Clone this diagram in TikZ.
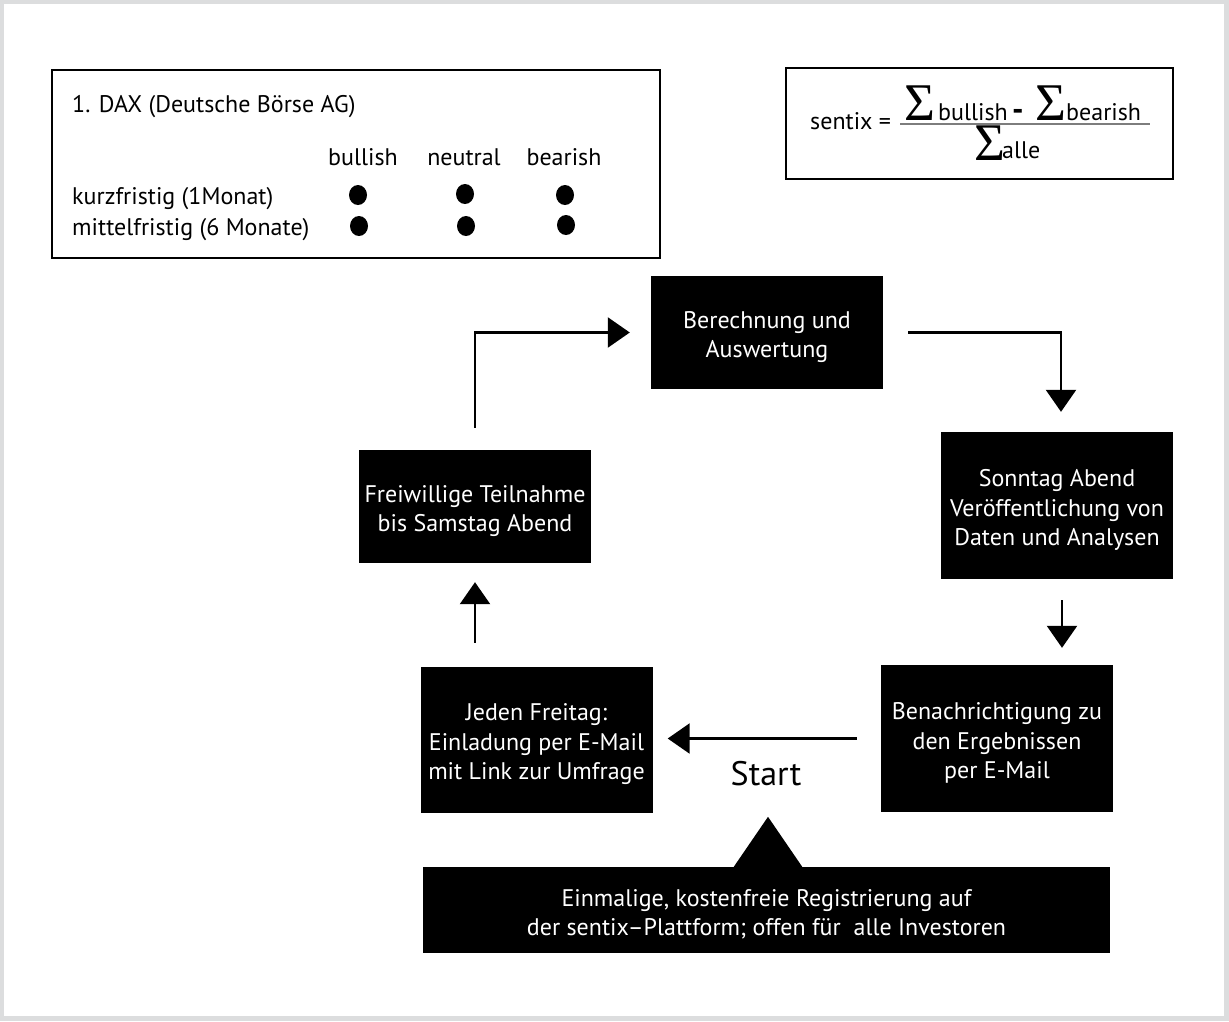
\documentclass[tikz,border=0pt]{standalone}
\usepackage{fontspec}
\setmainfont{PT Sans}
\newfontfamily\sigmafont{Liberation Serif}
\usetikzlibrary{arrows.meta, calc}

\definecolor{framegray}{RGB}{220, 221, 222}
\definecolor{rulegray}{RGB}{125, 125, 125}
\newcommand\lift{\rule{0pt}{26pt}}

\begin{document}
\begin{tikzpicture}[x=1pt, y=-1pt,
  stepbox/.style={fill=black, text=white, align=center, inner sep=0pt, minimum width=232pt, font=\fontsize{24}{29.5}\selectfont},
  framebox/.style={draw, line width=2.2pt, inner sep=0pt},
  lbl/.style={inner sep=0pt, font=\fontsize{24}{28}\selectfont},
  sig/.style={inner sep=0pt, anchor=base west, text height=30pt, text depth=0pt, font=\sigmafont\fontsize{53}{53}\selectfont},
  arr/.style={line width=2.4pt, -{Triangle[length=22pt, width=30pt]}},
  bigtip/.style={line width=2pt, -{Triangle[length=50pt, width=68pt]}}
]
  % grey page frame
  \fill[framegray] (0,0) rectangle (1229,1021);
  \fill[white] (4,4) rectangle (1224,1016);
  \useasboundingbox (0,0) rectangle (1229,1021);

  % questionnaire example
  \node[framebox, minimum width=608pt, minimum height=188pt] (dax) at (356,164) {};
  \node[lbl, anchor=west] (daxtitle) at (72,107) {1. DAX (Deutsche Börse AG)};
  \node[lbl] (hbull) at (363,157) {bullish};
  \node[lbl] (hneut) at (464,157) {neutral};
  \node[lbl] (hbear) at (564,157) {bearish};
  \node[lbl, anchor=west] (kurz) at (72,199) {kurzfristig (1Monat)};
  \node[lbl, anchor=west] (mittel) at (72,230) {mittelfristig (6 Monate)};
  \foreach \x/\y in {358/195, 465/194, 565/195, 359/226, 466/226, 566/225}
    \fill (\x,\y) ellipse (9 and 10);

  % formula
  \node[framebox, minimum width=387pt, minimum height=111pt] (frm) at (979.5,123.5) {};
  \node[lbl, anchor=base west] (sentix) at (810,129) {sentix =};
  \node[sig] (sbull) at (904,120) {Σ};
  \node[lbl, anchor=base west] (tbull) at (938,120) {bullish};
  \node[lbl, anchor=base west, font=\bfseries\fontsize{32}{32}\selectfont] (minus) at (1012,120) {-};
  \node[sig] (sbear) at (1035,120) {Σ};
  \node[lbl, anchor=base west] (tbear) at (1066,120) {bearish};
  \node[sig] (salle) at (974,160) {Σ};
  \node[lbl, anchor=base west] (talle) at (1002,158) {alle};
  \draw[rulegray, line width=1.5pt] (900,124) -- (1150,124);

  % cycle
  \node[stepbox, minimum height=113pt] (ber) at (767,332.5) {\lift Berechnung und\\Auswertung};
  \node[stepbox, minimum height=147pt] (son) at (1057,505.5) {\lift Sonntag Abend\\Veröffentlichung von\\Daten und Analysen};
  \node[stepbox, minimum height=147pt] (ben) at (997,738.5) {\lift Benachrichtigung zu\\den Ergebnissen\\per E-Mail};
  \node[stepbox, minimum height=146pt] (jed) at (536.5,740) {\lift Jeden Freitag:\\Einladung per E-Mail\\mit Link zur Umfrage};
  \node[stepbox, minimum height=113pt] (frei) at (475,506.5) {\lift Freiwillige Teilnahme\\bis Samstag Abend};
  \node[stepbox, minimum width=687pt, minimum height=86pt] (bot) at (766.5,910) {\lift Einmalige, kostenfreie Registrierung auf\\der sentix--Plattform; offen für \ alle Investoren};
  \node[inner sep=0pt, font=\fontsize{34}{34}\selectfont] (start) at (766,774) {Start};

  \coordinate (sb) at ([xshift=5pt]son.south);
  \draw[arr, shorten <=22pt, shorten >=21pt] (frei.north) |- (ber.west);
  \draw[arr, shorten <=25pt, shorten >=20pt] (ber.east) -| ([xshift=4pt]son.north);
  \draw[arr, shorten <=21pt, shorten >=17pt] (sb) -- (sb |- ben.north);
  \draw[arr, shorten <=24pt, shorten >=15pt] (ben.west) -- (ben.west -| jed.east);
  \draw[arr, shorten <=24pt, shorten >=19pt] (frei.south |- jed.north) -- (frei.south);
  \draw[bigtip] ([xshift=1.5pt]bot.north) -- ++(0,-50);
\end{tikzpicture}
\end{document}
